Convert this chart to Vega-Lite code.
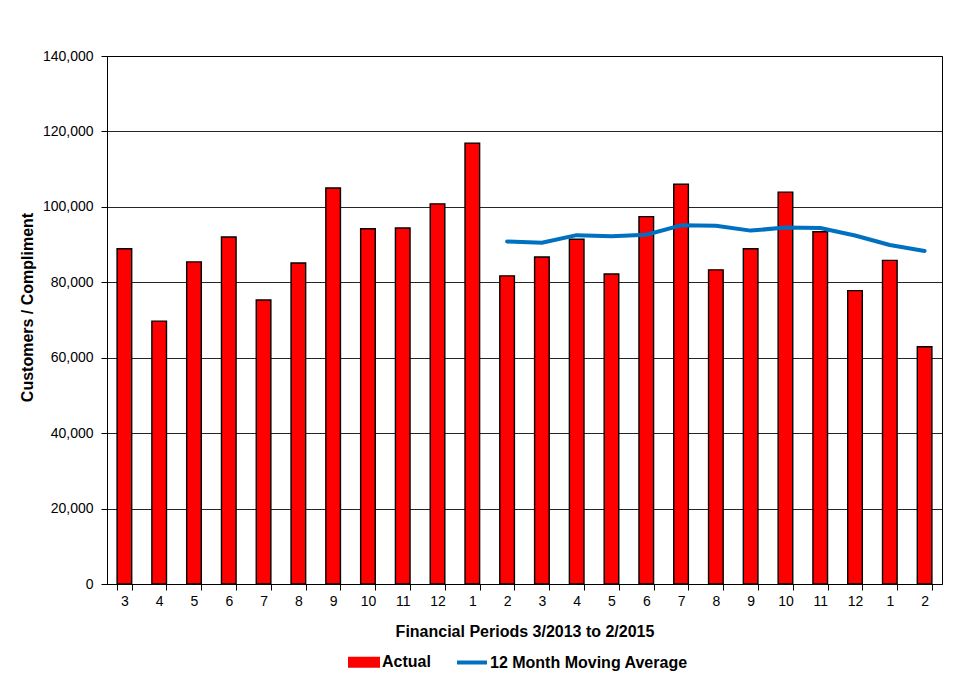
{
  "$schema": "https://vega.github.io/schema/vega-lite/v6.json",
  "autosize": {"type": "none"},
  "width": 835,
  "height": 528,
  "padding": {"left": 107, "top": 56, "right": 14, "bottom": 98},
  "background": "white",
  "config": {
    "font": "Liberation Sans",
    "view": {"stroke": "#000000", "strokeWidth": 1},
    "axis": {
      "labelFont": "Liberation Sans",
      "titleFont": "Liberation Sans",
      "labelColor": "#000000",
      "titleColor": "#000000",
      "domainColor": "#000000",
      "tickColor": "#000000",
      "gridColor": "#000000",
      "gridOpacity": 0.85,
      "labelFontSize": 14,
      "titleFontSize": 16,
      "titleFontWeight": "bold"
    },
    "legend": {
      "labelLimit": 400
    }
  },
  "data": {
    "values": [
      {"p": "3/2013", "actual": 88900, "ma": null},
      {"p": "4/2013", "actual": 69700, "ma": null},
      {"p": "5/2013", "actual": 85400, "ma": null},
      {"p": "6/2013", "actual": 92000, "ma": null},
      {"p": "7/2013", "actual": 75300, "ma": null},
      {"p": "8/2013", "actual": 85100, "ma": null},
      {"p": "9/2013", "actual": 105000, "ma": null},
      {"p": "10/2013", "actual": 94200, "ma": null},
      {"p": "11/2013", "actual": 94400, "ma": null},
      {"p": "12/2013", "actual": 100800, "ma": null},
      {"p": "1/2014", "actual": 116900, "ma": null},
      {"p": "2/2014", "actual": 81700, "ma": 90800},
      {"p": "3/2014", "actual": 86700, "ma": 90500},
      {"p": "4/2014", "actual": 91400, "ma": 92500},
      {"p": "5/2014", "actual": 82200, "ma": 92200},
      {"p": "6/2014", "actual": 97400, "ma": 92600},
      {"p": "7/2014", "actual": 106000, "ma": 95100},
      {"p": "8/2014", "actual": 83300, "ma": 95000},
      {"p": "9/2014", "actual": 88900, "ma": 93700},
      {"p": "10/2014", "actual": 103900, "ma": 94500},
      {"p": "11/2014", "actual": 93400, "ma": 94400},
      {"p": "12/2014", "actual": 77800, "ma": 92400},
      {"p": "1/2015", "actual": 85800, "ma": 89900},
      {"p": "2/2015", "actual": 62900, "ma": 88300}
    ]
  },
  "encoding": {
    "x": {
      "field": "p",
      "type": "nominal",
      "sort": null,
      "scale": {"paddingInner": 0.58, "paddingOuter": 0.29},
      "axis": {
        "title": "Financial Periods 3/2013 to 2/2015",
        "labelAngle": 0,
        "labelExpr": "split(datum.label, '/')[0]",
        "tickBand": "extent",
        "tickSize": 6,
        "labelPadding": 4,
        "titlePadding": 15,
        "grid": false
      }
    }
  },
  "layer": [
    {
      "mark": {"type": "bar", "stroke": "#000000", "strokeWidth": 1.4},
      "encoding": {
        "y": {
          "field": "actual",
          "type": "quantitative",
          "scale": {"domain": [0, 140000]},
          "axis": {
            "title": "Customers / Compliment",
            "format": ",d",
            "values": [0, 20000, 40000, 60000, 80000, 100000, 120000, 140000],
            "labelOverlap": false,
            "tickSize": 6,
            "labelPadding": 8,
            "grid": true,
            "titleX": -80,
            "titleY": 251,
            "titleBaseline": "middle"
          }
        },
        "color": {
          "datum": "Actual",
          "type": "nominal",
          "scale": {"domain": ["Actual", "12 Month Moving Average"], "range": ["#FF0000", "#0070C0"]},
          "legend": {
            "title": null,
            "orient": "none",
            "direction": "horizontal",
            "legendX": 249,
            "legendY": 598,
            "symbolSize": 900,
            "labelFontSize": 16,
            "labelFontWeight": "bold",
            "labelColor": "#000000",
            "labelFont": "Liberation Sans",
            "labelLimit": 400,
            "labelOffset": 10,
            "columnPadding": 18,
            "encode": {
              "symbols": {
                "update": {
                  "shape": {"signal": "datum.value === 'Actual' ? 'M-1,-0.3H1V0.3H-1Z' : 'M-1,0H1'"},
                  "fill": {"signal": "datum.value === 'Actual' ? '#FF0000' : 'transparent'"},
                  "stroke": {"signal": "datum.value === 'Actual' ? '#000000' : '#0070C0'"},
                  "strokeWidth": {"signal": "datum.value === 'Actual' ? 2 : 4"},
                  "opacity": {"value": 1}
                }
              }
            }
          }
        }
      }
    },
    {
      "mark": {"type": "line", "strokeWidth": 4, "strokeJoin": "round", "strokeCap": "round"},
      "encoding": {
        "y": {"field": "ma", "type": "quantitative"},
        "color": {
          "datum": "12 Month Moving Average",
          "type": "nominal",
          "legend": {
            "title": null,
            "orient": "none",
            "direction": "horizontal",
            "legendX": 249,
            "legendY": 598,
            "symbolSize": 900,
            "labelFontSize": 16,
            "labelFontWeight": "bold",
            "labelColor": "#000000",
            "labelFont": "Liberation Sans",
            "labelLimit": 400,
            "labelOffset": 10,
            "columnPadding": 18,
            "encode": {
              "symbols": {
                "update": {
                  "shape": {"signal": "datum.value === 'Actual' ? 'M-1,-0.3H1V0.3H-1Z' : 'M-1,0H1'"},
                  "fill": {"signal": "datum.value === 'Actual' ? '#FF0000' : 'transparent'"},
                  "stroke": {"signal": "datum.value === 'Actual' ? '#000000' : '#0070C0'"},
                  "strokeWidth": {"signal": "datum.value === 'Actual' ? 2 : 4"},
                  "opacity": {"value": 1}
                }
              }
            }
          }
        }
      }
    }
  ]
}
